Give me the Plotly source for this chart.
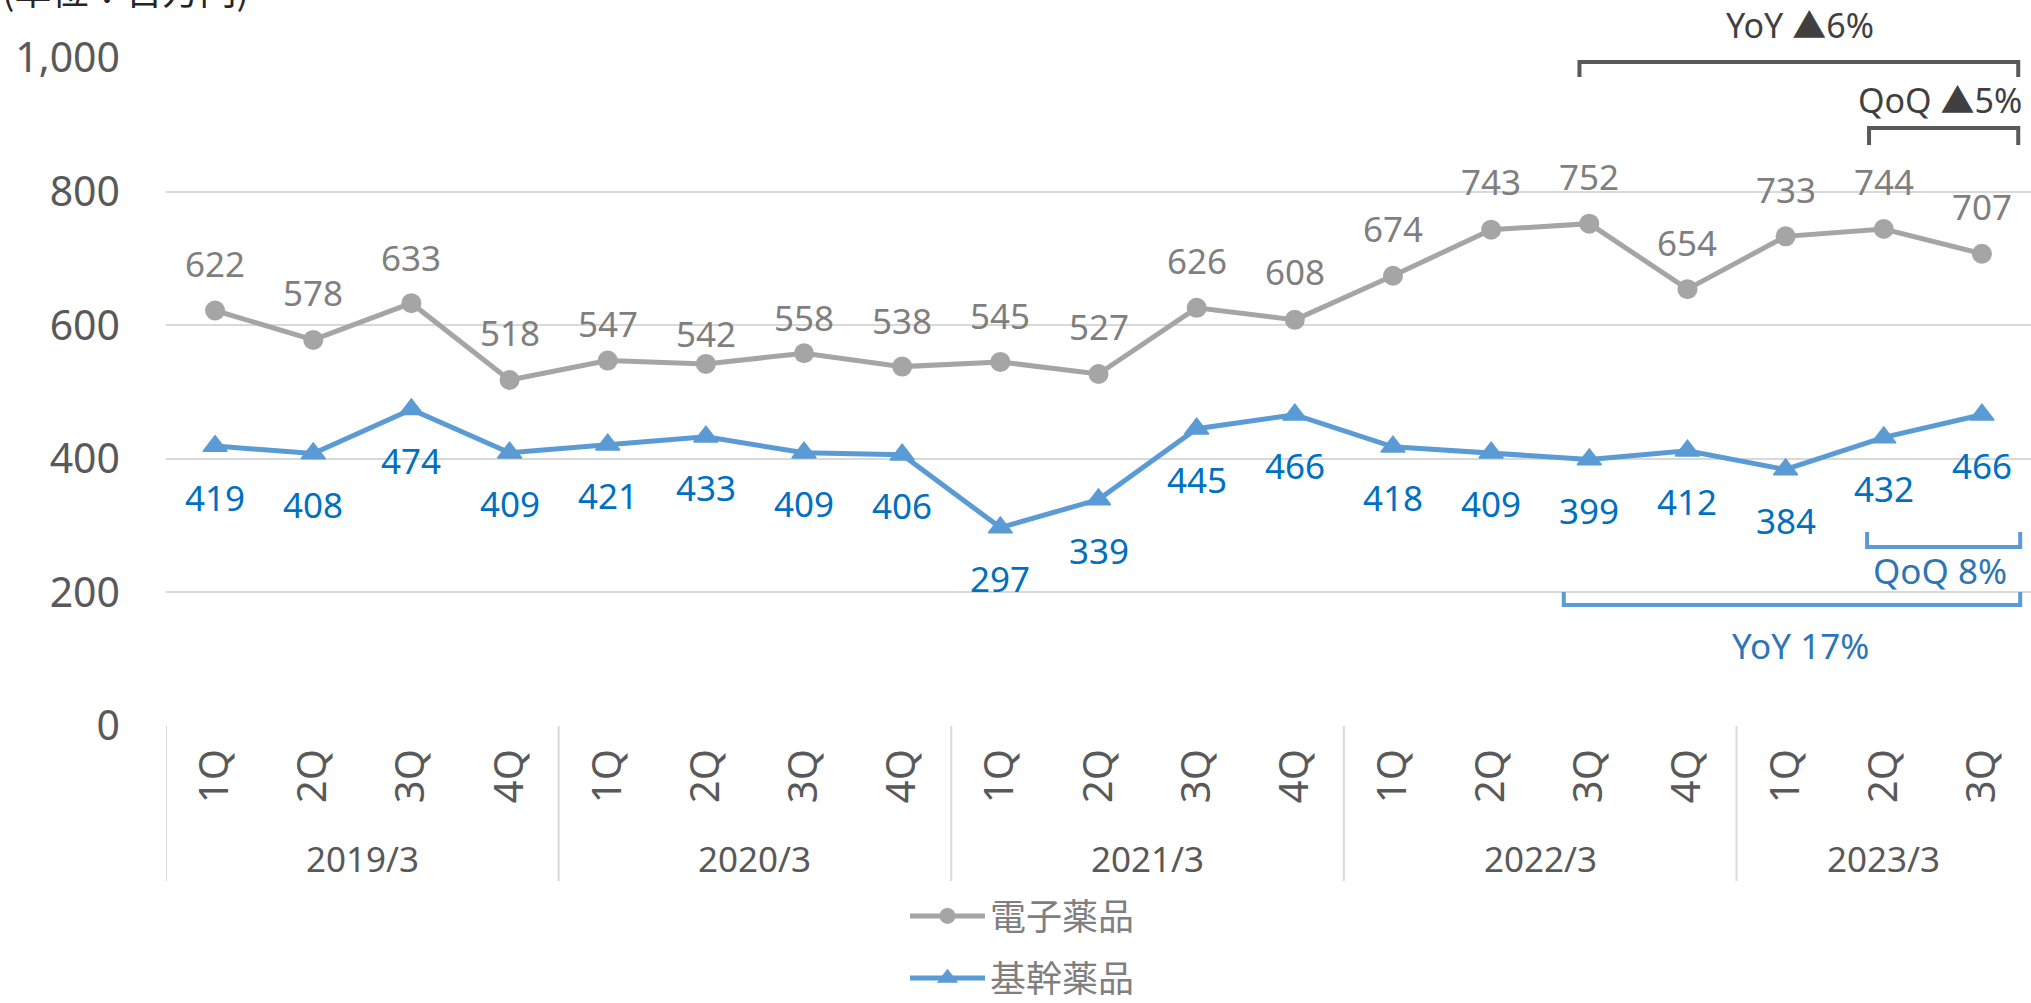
import plotly.graph_objects as go

# ---------------- data ----------------
fiscal_years = ["2019/3", "2020/3", "2021/3", "2022/3", "2023/3"]
quarters_per_year = [4, 4, 4, 4, 3]
quarter_labels = ["1Q", "2Q", "3Q", "4Q",
                  "1Q", "2Q", "3Q", "4Q",
                  "1Q", "2Q", "3Q", "4Q",
                  "1Q", "2Q", "3Q", "4Q",
                  "1Q", "2Q", "3Q"]
electronic = [622, 578, 633, 518, 547, 542, 558, 538, 545, 527,
              626, 608, 674, 743, 752, 654, 733, 744, 707]
basic = [419, 408, 474, 409, 421, 433, 409, 406, 297, 339,
         445, 466, 418, 409, 399, 412, 384, 432, 466]
y_ticks = [0, 200, 400, 600, 800, 1000]
series_names = ["電子薬品", "基幹薬品"]
unit_label = "(単位：百万円)"
top_notes = ["YoY ▲6%", "QoQ ▲5%"]
bottom_notes = ["QoQ 8%", "YoY 17%"]

# ---------------- layout helpers ----------------
x_idx = list(range(len(quarter_labels)))
W, H = 2031, 1003
ML, MR, MT, MB = 166, 0, 58, 277
PH = H - MT - MB
PW = W - ML - MR


def py2paper(py):
    return (MT + PH - py) / PH


def px2paper(px):
    return (px - ML) / PW


# per-label vertical lift (px) for grey labels; blue labels sit below
grey_lift = [47, 47, 46, 47, 37, 30, 36, 46, 46, 47, 47, 48, 47, 48, 47, 47, 47, 48, 47]
blue_drop = 51

FONT = "Noto Sans, Noto Sans CJK JP, sans-serif"
GREY_LINE = "#A5A5A5"
BLUE_LINE = "#5B9BD5"
GREY_TXT = "#7F7F7F"
BLUE_TXT = "#0070C0"
AXIS_TXT = "#595959"
GRID = "#D9D9D9"

fig = go.Figure()
fig.add_trace(go.Scatter(
    x=x_idx, y=electronic, name=series_names[0], mode="lines+markers",
    line=dict(color=GREY_LINE, width=5),
    marker=dict(symbol="circle", size=20, color=GREY_LINE),
    legend="legend", hoverinfo="y"))
fig.add_trace(go.Scatter(
    x=x_idx, y=basic, name=series_names[1], mode="lines+markers",
    line=dict(color=BLUE_LINE, width=5),
    marker=dict(symbol="triangle-up", size=21, color=BLUE_LINE,
                line=dict(color=BLUE_LINE, width=1.5)),
    legend="legend2", hoverinfo="y"))

annotations = []
for i, v in enumerate(electronic):
    annotations.append(dict(x=i, y=v, xref="x", yref="y", text=str(v),
                            showarrow=False, yshift=grey_lift[i],
                            xanchor="center", yanchor="middle",
                            font=dict(family=FONT, size=35, color=GREY_TXT)))
for i, v in enumerate(basic):
    annotations.append(dict(x=i, y=v, xref="x", yref="y", text=str(v),
                            showarrow=False, yshift=-blue_drop,
                            xanchor="center", yanchor="middle",
                            font=dict(family=FONT, size=35, color=BLUE_TXT)))

# fiscal year group labels and dividers
shapes = []
start = 0
for fy, n in zip(fiscal_years, quarters_per_year):
    center = start + (n - 1) / 2
    annotations.append(dict(x=center, y=py2paper(858), xref="x", yref="paper",
                            text=fy, showarrow=False, xanchor="center", yanchor="middle",
                            font=dict(family=FONT, size=35, color=AXIS_TXT)))
    shapes.append(dict(type="line", xref="x", yref="paper",
                       x0=start - 0.5, x1=start - 0.5,
                       y0=0, y1=py2paper(881),
                       line=dict(color=GRID, width=2)))
    start += n

# unit label
annotations.append(dict(x=px2paper(0), y=py2paper(18), xref="paper", yref="paper",
                        xanchor="left", yanchor="bottom", text=unit_label, showarrow=False,
                        font=dict(family="Noto Sans CJK JP", size=37, color="#262626")))


def bracket(x0, x1, y_bar, y_tip, color):
    return dict(type="path", xref="x", yref="paper",
                path=f"M {x0},{py2paper(y_tip)} L {x0},{py2paper(y_bar)} "
                     f"L {x1},{py2paper(y_bar)} L {x1},{py2paper(y_tip)}",
                line=dict(color=color, width=4))


DARK = "#595959"
NOTE_BLUE = "#5B9BD5"
shapes.append(bracket(13.9, 18.37, 62, 77, DARK))
shapes.append(bracket(16.85, 18.37, 128, 145, DARK))
shapes.append(bracket(16.83, 18.39, 547, 532, NOTE_BLUE))
shapes.append(bracket(13.74, 18.39, 605, 592, NOTE_BLUE))


def note(x, py, text, color, size):
    return dict(x=x, y=py2paper(py), xref="x", yref="paper", text=text,
                showarrow=False, xanchor="center", yanchor="middle",
                font=dict(family=FONT, size=size, color=color))


annotations.append(note(16.15, 25, top_notes[0], "#404040", 34))
annotations.append(note(17.57, 100, top_notes[1], "#404040", 34))
annotations.append(note(17.57, 570, bottom_notes[0], "#2E75B6", 35))
annotations.append(note(16.15, 645, bottom_notes[1], "#2E75B6", 35))

leg_x = px2paper(905)
fig.update_layout(
    width=W, height=H,
    margin=dict(l=ML, r=MR, t=MT, b=MB, pad=0, autoexpand=False),
    paper_bgcolor="white", plot_bgcolor="white",
    font=dict(family=FONT, color=AXIS_TXT),
    xaxis=dict(range=[-0.5, len(x_idx) - 0.5], tickmode="array", tickvals=x_idx,
               ticktext=quarter_labels, tickangle=-90, showgrid=False, zeroline=False,
               showline=False, ticks="", ticklabelstandoff=14, automargin=False,
               tickfont=dict(family=FONT, size=40, color=AXIS_TXT)),
    yaxis=dict(range=[0, 1000], tickmode="array", tickvals=y_ticks, tickformat=",",
               showgrid=True, gridcolor=GRID, gridwidth=2, zeroline=False, showline=False,
               ticks="", ticklabelstandoff=45, automargin=False,
               tickfont=dict(family=FONT, size=41, color=AXIS_TXT)),
    showlegend=True,
    legend=dict(x=leg_x, y=py2paper(916), xanchor="left", yanchor="middle",
                bgcolor="rgba(0,0,0,0)", itemwidth=75,
                font=dict(family="Noto Sans CJK JP", size=36, color=GREY_TXT)),
    legend2=dict(x=leg_x, y=py2paper(978), xanchor="left", yanchor="middle",
                 bgcolor="rgba(0,0,0,0)", itemwidth=75,
                 font=dict(family="Noto Sans CJK JP", size=36, color=GREY_TXT)),
    annotations=annotations,
    shapes=shapes,
)

fig.write_html("out.html", config={"displayModeBar": False},
               post_script="document.body.style.margin='0';document.body.style.overflow='hidden';")
